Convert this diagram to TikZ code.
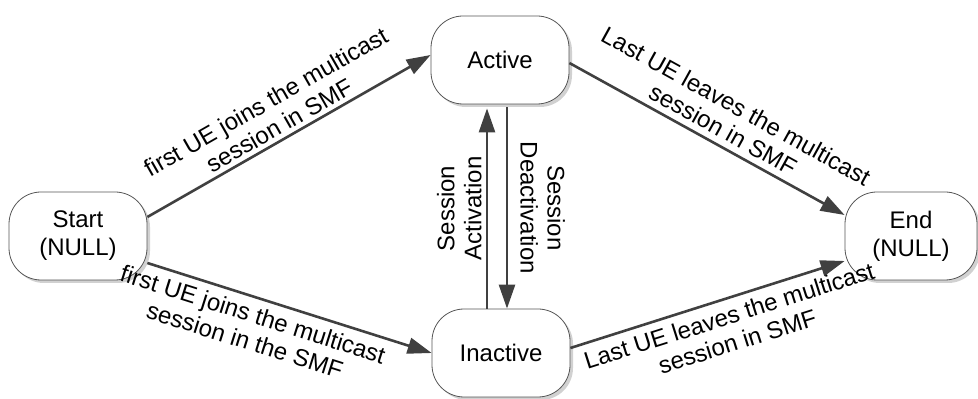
\documentclass[tikz,border=0pt]{standalone}
\usepackage{fontspec}
\setmainfont{Liberation Sans}
\usetikzlibrary{arrows.meta,shadows}
\definecolor{edgec}{HTML}{404040}
\definecolor{boxc}{HTML}{555555}

\begin{document}
\begin{tikzpicture}[
  x=1pt, y=1pt,
  >={Triangle[length=24pt, width=16pt]},
  state/.style={draw=boxc, line width=0.8pt, fill=white, rounded corners=32pt,
    minimum width=138pt, minimum height=88pt, align=center,
    font=\fontsize{24}{28}\selectfont,
    drop shadow={shadow xshift=3pt, shadow yshift=-3pt, fill=black!30, opacity=0.6}},
  trans/.style={->, line width=2.6pt, color=edgec},
  lbl/.style={text=black, font=\fontsize{24}{27}\selectfont, align=center, inner sep=4pt},
]
\useasboundingbox (0,0) rectangle (978,399);

\node[state] (start) at (78,163) {Start\\(NULL)};
\node[state] (active) at (500,339) {Active};
\node[state] (inactive) at (501,46) {Inactive};
\node[state, minimum width=132pt] (end) at (911,163) {End\\(NULL)};

\draw[trans] ([yshift=19pt]start.east) -- ([yshift=5pt]active.west)
  node[lbl, sloped, above, pos=0.49] (joinA) {first UE joins the multicast\\session in SMF};
\draw[trans] ([yshift=-27pt]start.east) -- (inactive.west)
  node[lbl, sloped, below, pos=0.39, inner sep=7pt] (joinI) {first UE joins the multicast\\session in the SMF};
\draw[trans] ([yshift=-3pt]active.east) -- ([yshift=21pt]end.west)
  node[lbl, sloped, above, pos=0.53, inner sep=6pt] (leaveA) {Last UE leaves the multicast\\session in SMF};
\draw[trans] ([yshift=5pt]inactive.east) -- ([yshift=-25pt]end.west)
  node[lbl, sloped, below, pos=0.56, inner sep=7pt] (leaveI) {Last UE leaves the multicast\\session in SMF};

\draw[trans] ([xshift=-14pt]inactive.north) -- ([xshift=-13pt, yshift=-4pt]active.south)
  node[lbl, midway, anchor=south, rotate=90] (act) {Session\\Activation};
\draw[trans] ([xshift=7pt, yshift=-3pt]active.south) -- ([xshift=6pt]inactive.north)
  node[lbl, midway, anchor=south, rotate=-90, yshift=8pt] (deact) {Session\\Deactivation};

\end{tikzpicture}
\end{document}
